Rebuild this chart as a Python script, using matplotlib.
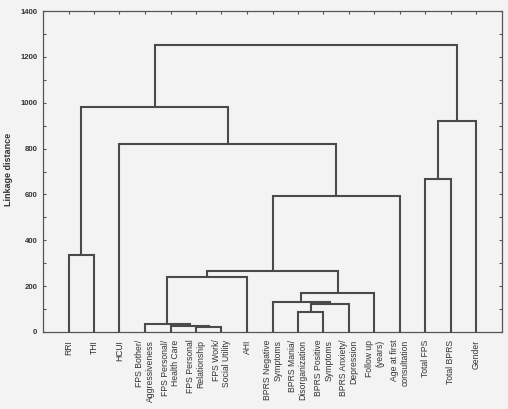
import matplotlib
matplotlib.use("Agg")
import matplotlib.pyplot as plt
import numpy as np

# ---- data ----
leaf_labels = [
    "RRI", "THI", "HCUI",
    "FPS Bother/\nAggressiveness", "FPS Personal/\nHealth Care",
    "FPS Personal\nRelationship", "FPS Work/\nSocial Utility", "AHI",
    "BPRS Negative\nSymptoms", "BPRS Mania/\nDisorganization",
    "BPRS Positive\nSymptoms", "BPRS Anxiety/\nDepression",
    "Follow up\n(years)", "Age at first\nconsultation",
    "Total FPS", "Total BPRS", "Gender",
]
# merges: cluster ids 0..16 are leaves, new clusters numbered from 17
merge_left = [5, 4, 3, 9, 20, 8, 22, 19, 24, 0, 25, 14, 2, 28, 26, 31]
merge_right = [6, 17, 18, 10, 11, 21, 12, 7, 23, 1, 13, 15, 27, 16, 29, 30]
merge_height = [20, 27, 33, 86, 124, 132, 168, 241, 267, 335, 594, 667, 821, 922, 980, 1250]

y_ticks = [0, 200, 400, 600, 800, 1000, 1200, 1400]

# ---- figure ----
bg = "#f3f3f3"
line_c = "#4a4a4a"
text_c = "#333333"
plt.rcParams["font.family"] = ["Liberation Sans", "DejaVu Sans"]

fig = plt.figure(figsize=(5.08, 4.09), dpi=100, facecolor=bg)
ax = fig.add_axes([43 / 508, 1 - 332 / 409, 459 / 508, 321 / 409])
ax.set_facecolor(bg)

n = len(leaf_labels)
pos = {i: float(i + 1) for i in range(n)}
hgt = {i: 0.0 for i in range(n)}
for k, (a, b, h) in enumerate(zip(merge_left, merge_right, merge_height)):
    cid = n + k
    xa, xb = pos[a], pos[b]
    ax.plot([xa, xa, xb, xb], [hgt[a], h, h, hgt[b]], color=line_c,
            lw=1.5, solid_joinstyle="miter", solid_capstyle="butt", zorder=3)
    pos[cid] = (xa + xb) / 2
    hgt[cid] = h

ax.set_xlim(0, n + 1)
ax.set_ylim(0, 1400)
ax.set_xticks(np.arange(1, n + 1))
ax.set_xticklabels(leaf_labels, rotation=90, ha="center", va="top",
                   multialignment="right", fontsize=6.2, color=text_c)
ax.set_yticks(y_ticks)
ax.set_yticklabels([str(t) for t in y_ticks], fontsize=5.6,
                   fontweight="bold", color=text_c)
ax.set_yticks(np.arange(100, 1400, 200), minor=True)
ax.tick_params(axis="both", which="both", direction="in", length=2,
               width=0.8, color="#555555", top=True, right=True)
ax.tick_params(axis="x", pad=5.5)
ax.tick_params(axis="y", pad=4)
for s in ax.spines.values():
    s.set_color("#555555")
    s.set_linewidth(0.9)

ax.set_ylabel("Linkage distance", fontsize=6.5, fontweight="bold", color=text_c)
ax.yaxis.set_label_coords(-0.066, 0.505)

fig.savefig("out.png", dpi=100, facecolor=bg)
